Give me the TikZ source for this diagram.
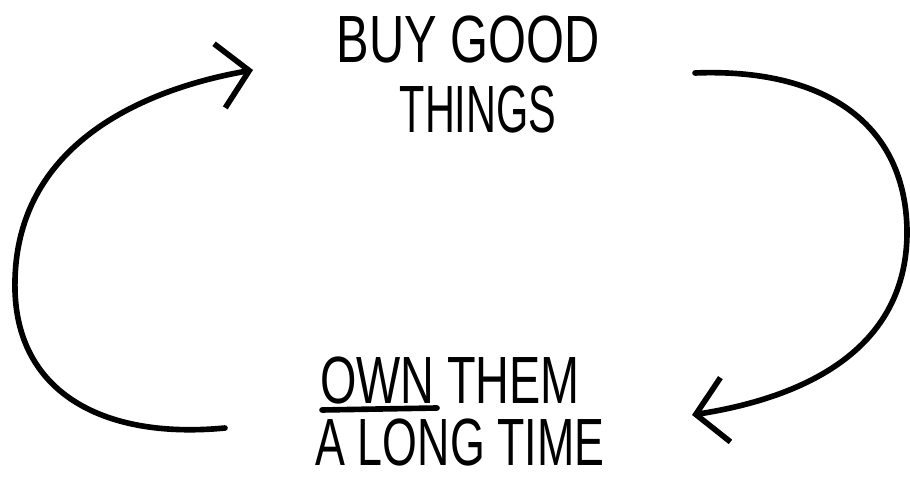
\documentclass[tikz,border=0pt]{standalone}
\usepackage{fontspec}
\setmainfont{Liberation Sans}
\usetikzlibrary{arrows.meta}
\begin{document}
\begin{tikzpicture}[x=0.01cm,y=-0.01cm,
  stroke/.style={line width=1.6pt, line cap=round, line join=round},
  cyc/.style={stroke, -{Straight Barb[length=3mm,width=6.5mm]}},
  lbl/.style={inner sep=0pt, font=\fontsize{19}{19}\selectfont}]
\useasboundingbox (0,0) rectangle (910,477);
\node[lbl] (buy) at (468,40) {\scalebox{0.73}[1]{BUY GOOD}};
\node[lbl] (things) at (478,110) {\scalebox{0.62}[1]{THINGS}};
\node[lbl] (own) at (450,381) {\scalebox{0.7}[1]{OWN THEM}};
\node[lbl] (long) at (460,443) {\scalebox{0.67}[1]{A LONG TIME}};
\coordinate (ls) at (225,428);
\coordinate (le) at (253,70);
\coordinate (rs) at (695,73);
\coordinate (re) at (692,415);
\coordinate (u1) at (322,410);
\coordinate (u2) at (437,408);
\draw[cyc] (ls) .. controls (100,440) and (12,390) .. (15,280)
  .. controls (18,140) and (150,88) .. (le);
\draw[cyc] (rs) .. controls (820,68) and (905,120) .. (907,230)
  .. controls (908,340) and (820,395) .. (re);
\draw[stroke] (u1) -- (u2);
\end{tikzpicture}
\end{document}
